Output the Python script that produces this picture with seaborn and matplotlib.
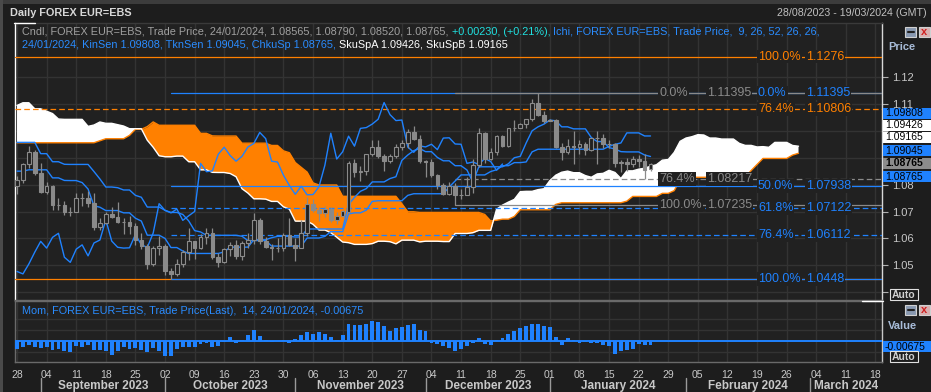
import numpy as np
import pandas as pd
import matplotlib
matplotlib.use("Agg")
import matplotlib.pyplot as plt
import matplotlib.transforms as mtransforms
from matplotlib.patches import Rectangle
from matplotlib.lines import Line2D
import seaborn as sns

# warm-up bars 12/05/2023 - 25/08/2023 (only used by the Ichimoku lines)
prior_high = [1.0929,
              1.0888, 1.0905, 1.0880, 1.0844, 1.0832,
              1.0830, 1.0815, 1.0799, 1.0762, 1.0745,
              1.0750, 1.0747, 1.0736, 1.0765, 1.0780,
              1.0735, 1.0720, 1.0715, 1.0786, 1.0790,
              1.0780, 1.0823, 1.0865, 1.0950, 1.0970,
              1.0938, 1.0935, 1.0985, 1.1012, 1.0971,
              1.0935, 1.0976, 1.0975, 1.0937, 1.0915,
              1.0935, 1.0898, 1.0890, 1.0915, 1.0975,
              1.1000, 1.1015, 1.1130, 1.1225, 1.1245,
              1.1245, 1.1276, 1.1240, 1.1205, 1.1140,
              1.1125, 1.1080, 1.1149, 1.1149, 1.1045,
              1.1045, 1.1000, 1.1010, 1.0950, 1.1040,
              1.1030, 1.1000, 1.1000, 1.1065, 1.1010,
              1.0950, 1.0950, 1.0930, 1.0920, 1.0890,
              1.0935, 1.0925, 1.0870, 1.0875, 1.0830]
prior_low = [1.0848,
             1.0845, 1.0860, 1.0810, 1.0761, 1.0760,
             1.0786, 1.0762, 1.0747, 1.0711, 1.0702,
             1.0702, 1.0673, 1.0635, 1.0650, 1.0705,
             1.0675, 1.0665, 1.0665, 1.0690, 1.0740,
             1.0735, 1.0755, 1.0790, 1.0805, 1.0925,
             1.0910, 1.0900, 1.0895, 1.0950, 1.0844,
             1.0893, 1.0900, 1.0920, 1.0835, 1.0855,
             1.0880, 1.0865, 1.0835, 1.0835, 1.0880,
             1.0935, 1.0965, 1.0990, 1.1120, 1.1205,
             1.1205, 1.1205, 1.1180, 1.1110, 1.1105,
             1.1060, 1.1030, 1.1045, 1.0940, 1.0945,
             1.0980, 1.0960, 1.0915, 1.0910, 1.0935,
             1.0985, 1.0915, 1.0950, 1.0975, 1.0940,
             1.0885, 1.0885, 1.0875, 1.0865, 1.0845,
             1.0885, 1.0845, 1.0805, 1.0800, 1.0765]
# closes 08/08/2023 - 25/08/2023 (momentum warm-up)
prior_close = [1.0957, 1.0980, 1.0985, 1.0948, 1.0906, 1.0905, 1.0877,
               1.0872, 1.0872, 1.0894, 1.0845, 1.0863, 1.0807, 1.0796]

# daily candles 28/08/2023 - 24/01/2024
opens = [1.0796, 1.0818, 1.0878, 1.0922, 1.0843,
         1.0773, 1.0796, 1.0723, 1.0725, 1.0697,
         1.0699, 1.0750, 1.0752, 1.0732, 1.0642,
         1.0657, 1.0690, 1.0679, 1.0661, 1.0660,
         1.0645, 1.0595, 1.0570, 1.0503, 1.0566,
         1.0573, 1.0477, 1.0468, 1.0505, 1.0549,
         1.0589, 1.0564, 1.0604, 1.0619, 1.0530,
         1.0511, 1.0560, 1.0576, 1.0535, 1.0583,
         1.0594, 1.0669, 1.0590, 1.0567, 1.0564,
         1.0565, 1.0614, 1.0577, 1.0566, 1.0620,
         1.0729, 1.0704, 1.0695, 1.0709, 1.0667,
         1.0684, 1.0700, 1.0879, 1.0848, 1.0851,
         1.0913, 1.0939, 1.0908, 1.0887, 1.0905,
         1.0940, 1.0953, 1.0994, 1.0971, 1.0887,
         1.0884, 1.0835, 1.0797, 1.0764, 1.0794,
         1.0762, 1.0763, 1.0792, 1.0872, 1.0991,
         1.0895, 1.0922, 1.0980, 1.0943, 1.1009,
         1.1012, 1.1025, 1.1043, 1.1105, 1.1060,
         1.1038, 1.1040, 1.0940, 1.0920, 1.0944,
         1.0940, 1.0950, 1.0930, 1.0973, 1.0974,
         1.0951, 1.0950, 1.0879, 1.0884, 1.0875,
         1.0897, 1.0886, 1.08565]
highs = [1.0832, 1.0882, 1.0945, 1.0930, 1.0882,
         1.0810, 1.0800, 1.0750, 1.0740, 1.0715,
         1.0768, 1.0768, 1.0775, 1.0768, 1.0675,
         1.0700, 1.0718, 1.0736, 1.0677, 1.0684,
         1.0658, 1.0620, 1.0580, 1.0573, 1.0610,
         1.0580, 1.0490, 1.0523, 1.0557, 1.0640,
         1.0590, 1.0615, 1.0640, 1.0638, 1.0545,
         1.0565, 1.0588, 1.0595, 1.0590, 1.0620,
         1.0695, 1.0675, 1.0605, 1.0580, 1.0600,
         1.0620, 1.0675, 1.0600, 1.0668, 1.0755,
         1.0745, 1.0715, 1.0720, 1.0715, 1.0700,
         1.0705, 1.0887, 1.0895, 1.0870, 1.0915,
         1.0965, 1.0965, 1.0915, 1.0915, 1.0950,
         1.0965, 1.1005, 1.1017, 1.0985, 1.0890,
         1.0895, 1.0840, 1.0805, 1.0810, 1.0805,
         1.0785, 1.0827, 1.0895, 1.1009, 1.0996,
         1.0935, 1.0985, 1.0985, 1.1010, 1.1040,
         1.1030, 1.1045, 1.1120, 1.11395, 1.1075,
         1.1045, 1.1045, 1.0955, 1.0970, 1.1000,
         1.0965, 1.0960, 1.0975, 1.0998, 1.09869,
         1.0965, 1.0955, 1.0890, 1.0900, 1.0905,
         1.0910, 1.0915, 1.08790]
lows = [1.0766, 1.0805, 1.0860, 1.0835, 1.0770,
        1.0765, 1.0705, 1.0705, 1.0686, 1.0685,
        1.0698, 1.0722, 1.0715, 1.0632, 1.0632,
        1.0652, 1.0674, 1.0658, 1.0615, 1.0615,
        1.0575, 1.0561, 1.0488, 1.0497, 1.0540,
        1.0464, 1.0448, 1.0460, 1.0495, 1.0520,
        1.0523, 1.0560, 1.0580, 1.0525, 1.0495,
        1.0510, 1.0535, 1.0523, 1.0520, 1.0563,
        1.0580, 1.0580, 1.0565, 1.0520, 1.0550,
        1.0555, 1.0570, 1.0515, 1.0565, 1.0610,
        1.0700, 1.0665, 1.0680, 1.0660, 1.0655,
        1.0680, 1.06935, 1.0828, 1.0815, 1.0835,
        1.0905, 1.0900, 1.0852, 1.0880, 1.0900,
        1.0930, 1.0935, 1.0965, 1.0880, 1.0828,
        1.0830, 1.0785, 1.0760, 1.0760, 1.07235,
        1.0745, 1.0760, 1.0770, 1.0865, 1.0880,
        1.0890, 1.0910, 1.0940, 1.0940, 1.1000,
        1.1010, 1.1010, 1.1035, 1.1055, 1.1030,
        1.1035, 1.0935, 1.0890, 1.0915, 1.0875,
        1.0915, 1.0910, 1.0925, 1.0875, 1.0935,
        1.0935, 1.0865, 1.0845, 1.0850, 1.0865,
        1.0865, 1.08221, 1.08520]
closes = [1.0818, 1.0878, 1.0922, 1.0843, 1.0773,
          1.0796, 1.0723, 1.0725, 1.0697, 1.0699,
          1.0750, 1.0752, 1.0732, 1.0642, 1.0657,
          1.0690, 1.0679, 1.0661, 1.0660, 1.0645,
          1.0595, 1.0570, 1.0503, 1.0566, 1.0573,
          1.0477, 1.0468, 1.0505, 1.0549, 1.0589,
          1.0564, 1.0604, 1.0619, 1.0530, 1.0511,
          1.0560, 1.0576, 1.0535, 1.0583, 1.0594,
          1.0669, 1.0590, 1.0567, 1.0564, 1.0565,
          1.0614, 1.0577, 1.0566, 1.0620, 1.0729,
          1.0704, 1.0695, 1.0709, 1.0667, 1.0684,
          1.0700, 1.0879, 1.0848, 1.0851, 1.0913,
          1.0939, 1.0908, 1.0887, 1.0905, 1.0940,
          1.0953, 1.0994, 1.0971, 1.0887, 1.0884,
          1.0835, 1.0797, 1.0764, 1.0794, 1.0762,
          1.0763, 1.0792, 1.0872, 1.0991, 1.0895,
          1.0922, 1.0980, 1.0943, 1.1009, 1.1012,
          1.1025, 1.1043, 1.1105, 1.1060, 1.1038,
          1.1040, 1.0940, 1.0920, 1.0944, 1.0940,
          1.0950, 1.0930, 1.0973, 1.0974, 1.0951,
          1.0950, 1.0879, 1.0884, 1.0875, 1.0897,
          1.0886, 1.08535, 1.08765]

# values printed in the legend / right scale
kin_sen, tkn_sen, chku_sp = 1.09808, 1.09045, 1.08765
sku_spa, sku_spb = 1.09426, 1.09165
mom_last = -0.00675

# price scale ticks (labels under the value boxes are covered in the original)
price_ticks = [1.04, 1.05, 1.06, 1.07, 1.08, 1.09, 1.10, 1.11, 1.12]
price_tick_labels = ["", "1.05", "1.06", "1.07", "1.08", "", "", "1.11", "1.12"]

# fibonacci sets: price at 0%, price at 100%, ratios
fib_orange = (1.0448, 1.1276, [0.0, 1.0, 0.764])
fib_blue = (1.11395, 1.0448, [0.0, 0.5, 0.618, 0.764, 1.0])
fib_gray = (1.11395, 1.07235, [0.0, 0.764, 1.0])

BG_FIG = "#1d1d1d"
BG_AX = "#212121"
GRID = "#333333"
CANDLE = "#8a8a8a"
BLUE = "#1f82ff"
ORANGE = "#ff8000"
TXT = "#c8c8c8"
FONT = "Liberation Sans"
NARROW = ["Liberation Sans Narrow", "Liberation Sans"]

sns.set_style("dark")
plt.rcParams["font.family"] = [FONT, "DejaVu Sans"]

W, H = 931, 392
fig = plt.figure(figsize=(W / 100, H / 100), dpi=100, facecolor=BG_FIG)


def fx(px):
    return px / W


def fy(py):
    return 1 - py / H


ax = fig.add_axes([fx(15), fy(300), fx(882) - fx(15), fy(23) - fy(300)])
ax2 = fig.add_axes([fx(15), fy(362), fx(882) - fx(15), fy(301) - fy(362)], sharex=ax)
for a in (ax, ax2):
    a.set_facecolor(BG_AX)

bdays = pd.bdate_range("2023-08-28", "2024-03-19")
mondays = [i for i, d in enumerate(bdays) if d.weekday() == 0]
month_starts = [i for i in range(1, len(bdays)) if bdays[i].month != bdays[i - 1].month]

# ---- ichimoku ----
hi_all = pd.Series(prior_high + highs)
lo_all = pd.Series(prior_low + lows)
P = len(prior_high)
shift = 25


def midline(n):
    return (hi_all.rolling(n).max() + lo_all.rolling(n).min()) / 2


tenkan_all, kijun_all, spanb_all = midline(9), midline(26), midline(52)
n = len(closes)
x = np.arange(n)
tenkan = tenkan_all.values[P:]
kijun = kijun_all.values[P:]
sa = ((tenkan_all + kijun_all) / 2).values[P - shift:P + n]
sb = spanb_all.values[P - shift:P + n]
sx = np.arange(len(sa))

ax.fill_between(sx, sa, sb, where=sa >= sb, interpolate=True, color="white", lw=0, zorder=1)
ax.fill_between(sx, sa, sb, where=sa < sb, interpolate=True, color=ORANGE, lw=0, zorder=1)
ax.plot(sx, sb, color=ORANGE, lw=1, zorder=2)
ax.plot(sx, sa, color="white", lw=1, zorder=2)

# ---- fibonacci lines ----
blend = mtransforms.blended_transform_factory(ax.transAxes, ax.transData)
xl = (-0.34, 146.1)


def fib(fset, color, start, label_px, skip_label=()):
    p0, p100, ratios = fset
    for r in ratios:
        v = p0 + r * (p100 - p0)
        ls = (0, (4.5, 2.5)) if r in (0.618, 0.764) else "-"
        ax.plot([start, xl[1]], [v, v], color=color, lw=0.9, ls=ls, zorder=3)
        if r in skip_label:
            continue
        lx = (label_px - 15) / 867
        kw = dict(transform=blend, color=color, fontsize=9, va="center", ha="left", zorder=7,
                  bbox=dict(facecolor=BG_AX, edgecolor="none", pad=0.6))
        ax.text(lx, v, f"{r * 100:.1f}%", **kw)
        ax.text(lx + 48 / 867, v, f"{v + 1e-9:.5f}".rstrip("0"), **kw)


fib(fib_orange, ORANGE, xl[0], 758, skip_label=(0.0,))
fib(fib_blue, BLUE, 26, 758)
fib(fib_gray, CANDLE, 74, 659)

# ---- tenkan / kijun / chikou ----
sns.lineplot(x=x, y=tenkan, ax=ax, color=BLUE, lw=1, zorder=4)
sns.lineplot(x=x, y=kijun, ax=ax, color=BLUE, lw=1, zorder=4)
sns.lineplot(x=np.arange(n - shift), y=np.array(closes[shift:]), ax=ax, color=BLUE, lw=1, zorder=4)

# ---- candles ----
o, h, l, c = (np.array(v) for v in (opens, highs, lows, closes))
up = c >= o
ax.vlines(x, l, h, color=CANDLE, lw=0.9, zorder=5)
lo_b = np.minimum(o, c)
hb = np.maximum(np.abs(c - o), 0.0001)
ax.bar(x[up], hb[up], bottom=lo_b[up], width=0.62, facecolor=BG_AX, edgecolor=CANDLE, lw=0.8, zorder=6)
ax.bar(x[~up], hb[~up], bottom=lo_b[~up], width=0.62, facecolor=CANDLE, edgecolor=CANDLE, lw=0.8, zorder=6)

ax.set_xlim(*xl)
ax.set_ylim(1.12 - 223 / 2690, 1.12 + 54 / 2690)
ax.set_yticks(price_ticks)
ax.set_yticklabels(price_tick_labels)
ax.yaxis.tick_right()
ax.tick_params(axis="y", colors="#b0b0b0", labelcolor=TXT, labelsize=8, length=4, pad=3, width=0.8)
ax.tick_params(axis="x", bottom=False, labelbottom=False)
ax.grid(True, color=GRID, lw=1)
ax.set_axisbelow(True)
for s, col in (("left", "white"), ("right", "#d8d8d8"), ("top", "#3a3a3a"), ("bottom", "#6a6a6a")):
    ax.spines[s].set_color(col)
    ax.spines[s].set_linewidth(1)

# ---- momentum ----
close_all = np.array(prior_close + closes)
mom = close_all[14:] - close_all[:-14]
ax2.bar(x, mom, width=0.65, color=BLUE, lw=0, zorder=3)
ax2.axhline(0, color=BLUE, lw=1.4, zorder=4)
for g in (-0.02, 0.02, 0.04):
    ax2.axhline(g, color=GRID, lw=1, zorder=1)
ax2.set_ylim(-21 * 0.0018, 40 * 0.0018)
ax2.yaxis.tick_right()
ax2.set_yticks([0])
ax2.set_yticklabels([""])
ax2.tick_params(axis="y", colors="#b0b0b0", length=4)
ax2.set_xticks(mondays)
ax2.set_xticklabels([bdays[i].strftime("%d") for i in mondays])
ax2.set_xticks(month_starts, minor=True)
ax2.tick_params(axis="x", which="both", colors="#b0b0b0", labelcolor=TXT, labelsize=7.5, length=4, pad=2)
ax2.grid(True, axis="x", color=GRID, lw=1)
ax2.grid(False, axis="y")
for s, col in (("left", "#6a6a6a"), ("right", "#c8c8c8"), ("top", "#6a6a6a"), ("bottom", "#6a6a6a")):
    ax2.spines[s].set_color(col)
    ax2.spines[s].set_linewidth(1)

blend2 = mtransforms.blended_transform_factory(ax2.transData, ax2.transAxes)
edges = month_starts + [xl[1]]
for a, b in zip(edges[:-1], edges[1:]):
    ax2.text((a + b) / 2, -0.395, bdays[a].strftime("%B %Y"), transform=blend2, ha="center",
             va="center", fontsize=8.5, fontweight="bold", color=TXT, clip_on=False)
for m in month_starts:
    ax2.add_line(Line2D([m, m], [-0.27, -0.5], transform=blend2, color="#9a9a9a", lw=1, clip_on=False))

# ---- header and legends ----
fig.add_artist(Rectangle((0, fy(4)), 1, 4 / H, transform=fig.transFigure, color="#3c3c3c", lw=0))
fig.add_artist(Rectangle((0, 0), 3 / W, 1, transform=fig.transFigure, color="#4a4a4a", lw=0))
fig.text(fx(10), fy(13), "Daily FOREX EUR=EBS", fontsize=7.8, fontweight="bold", color="#d8d8d8", va="center")
fig.text(fx(927), fy(13), "28/08/2023 - 19/03/2024 (GMT)", fontsize=7.7, color="#c0c0c0", va="center", ha="right")

renderer = fig.canvas.get_renderer()


def text_runs(x_px, y_px, runs, size=7.8):
    for s, col in runs:
        t = fig.text(fx(x_px), fy(y_px), s, color=col, fontsize=size, va="center", ha="left")
        x_px += t.get_window_extent(renderer).width


chg = c[-1] - c[-2]
BLUE_T = "#2a8cff"
text_runs(22, 32, [
    (f"Cndl, FOREX EUR=EBS, Trade Price, {bdays[n - 1]:%d/%m/%Y}, {o[-1]:.5f}, {h[-1]:.5f}, {l[-1]:.5f}, {c[-1]:.5f}, ", "#a0a0a0"),
    (f"{chg:+.5f}, ({chg / c[-2] * 100:+.2f}%), ", "#20e0e0"),
    ("Ichi, FOREX EUR=EBS, Trade Price,  9, 26, 52, 26, 26,", BLUE_T)])
text_runs(22, 45, [
    (f"{bdays[n - 1]:%d/%m/%Y}, KinSen {kin_sen:.5f}, TknSen {tkn_sen:.5f}, ChkuSp {chku_sp:.5f}, ", BLUE_T),
    (f"SkuSpA {sku_spa:.5f}, SkuSpB {sku_spb:.5f}", "white")])
text_runs(22, 311, [(f"Mom, FOREX EUR=EBS, Trade Price(Last),  14, {bdays[n - 1]:%d/%m/%Y}, {mom_last:.5f}", BLUE_T)])

# white corner marks
for xs, ys in (([14, 35], [23, 23]), ([862, 883], [300.5, 300.5])):
    fig.add_artist(Line2D([fx(v) for v in xs], [fy(v) for v in ys], color="white", lw=1))

# ---- right scale boxes ----
boxes = [(f"{kin_sen:.5f}", 113, BLUE, "normal"),
         (f"{sku_spa:.5f}", 125, "white", "normal"),
         (f"{sku_spb:.5f}", 137.5, "white", "normal"),
         (f"{tkn_sen:.5f}", 150.5, BLUE, "normal"),
         (f"{c[-1]:.5f}", 163.5, "#8c8c8c", "bold"),
         (f"{chku_sp:.5f}", 176.5, BLUE, "normal"),
         (f"{mom_last:.5f}", 346.5, BLUE, "normal")]
for s, yc, col, wt in boxes:
    fig.add_artist(Rectangle((fx(883), fy(yc + 5.5)), 48 / W, 11 / H, transform=fig.transFigure,
                             color=col, lw=0, zorder=2))
    fig.text(fx(885), fy(yc), s, fontsize=7.5, color="black", fontweight=wt, va="center",
             ha="left", family=NARROW, zorder=3)

for label, yc in (("Price", 47), ("Value", 326)):
    fig.text(fx(888), fy(yc), label, fontsize=8, fontweight="bold", color="#a8bcd8", va="center")

for yc in (294.5, 356.5):
    fig.add_artist(Rectangle((fx(889.5), fy(yc + 5.5)), 28 / W, 11 / H, transform=fig.transFigure,
                             facecolor=BG_FIG, edgecolor="#e0e0e0", lw=0.8, zorder=2))
    fig.text(fx(903.5), fy(yc), "Auto", fontsize=7.5, fontweight="bold", color="#d0d0d0",
             va="center", ha="center", zorder=3)

for yc in (32, 310):
    fig.add_artist(Rectangle((fx(905), fy(yc + 5)), 11 / W, 10 / H, transform=fig.transFigure,
                             facecolor="#8898b0", edgecolor="#d0d0d0", lw=0.8, zorder=2))
    fig.add_artist(Line2D([fx(907.5), fx(913.5)], [fy(yc), fy(yc)], color="#202020", lw=1.5, zorder=3))
    fig.add_artist(Rectangle((fx(919), fy(yc + 5)), 11 / W, 10 / H, transform=fig.transFigure,
                             facecolor="#d8b0b0", edgecolor="#d0d0d0", lw=0.8, zorder=2))
    fig.text(fx(924.5), fy(yc), "x", fontsize=8, fontweight="bold", color="#d02020",
             va="center", ha="center", zorder=3)

fig.savefig("out.png", dpi=100, facecolor=BG_FIG)
